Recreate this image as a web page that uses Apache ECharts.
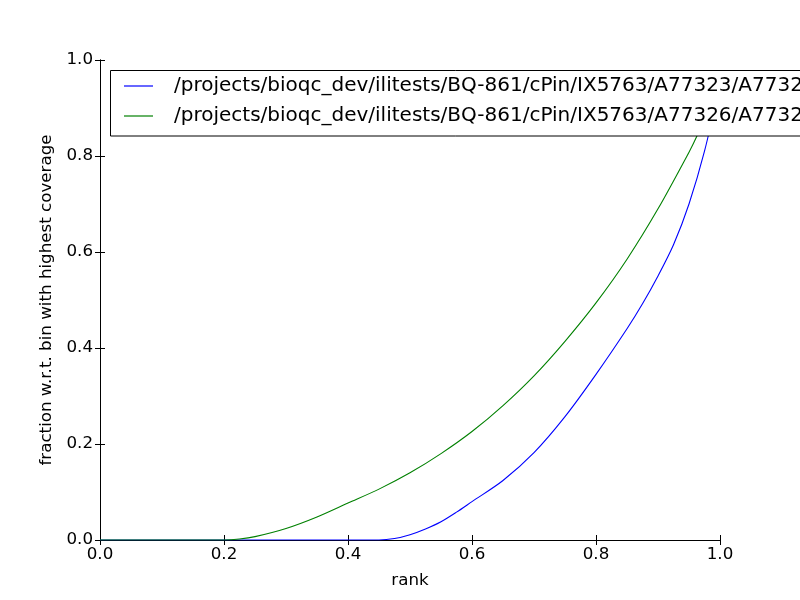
<!DOCTYPE html>
<html><head><meta charset="utf-8">
<script src="https://cdn.jsdelivr.net/npm/echarts@6/dist/echarts.min.js"></script>
<style>html,body{margin:0;padding:0;background:#fff}#c{width:800px;height:600px}</style>
</head><body><div id="c"></div>
<script>
const seriesNames = [
  "/projects/bioqc_dev/ilitests/BQ-861/cPin/IX5763/A77323/A77323.bam",
  "/projects/bioqc_dev/ilitests/BQ-861/cPin/IX5763/A77326/A77326.bam"
];
const blueRank  = [0.0, 0.2, 0.4, 0.45, 0.475, 0.5, 0.525, 0.55, 0.575, 0.6, 0.65, 0.7, 0.75, 0.8, 0.85, 0.875, 0.9, 0.925, 0.95, 0.975, 1.0];
const blueFrac  = [0.0, 0.0, 0.0, 0.0, 0.003, 0.011, 0.023, 0.038, 0.058, 0.08, 0.124, 0.182, 0.257, 0.345, 0.44, 0.492, 0.55, 0.615, 0.70, 0.81, 0.95];
const greenRank = [0.0, 0.2, 0.225, 0.25, 0.3, 0.35, 0.4, 0.45, 0.5, 0.55, 0.6, 0.65, 0.7, 0.75, 0.8, 0.85, 0.9, 0.95, 0.963, 1.0];
const greenFrac = [0.0, 0.0, 0.002, 0.007, 0.024, 0.048, 0.077, 0.106, 0.14, 0.18, 0.226, 0.28, 0.342, 0.414, 0.494, 0.585, 0.69, 0.808, 0.842, 0.95];
const xTicks = [0.0, 0.2, 0.4, 0.6, 0.8, 1.0];
const yTicks = [0.0, 0.2, 0.4, 0.6, 0.8, 1.0];

const pairs = (xs, ys) => xs.map((x, i) => [x, ys[i]]);
const font = "DejaVu Sans";
const axisCommon = {
  type: 'value', min: 0, max: 1, interval: 0.2,
  axisLine: {show: true, lineStyle: {color: '#000', width: 1}},
  axisTick: {show: true, inside: true, length: 5, lineStyle: {color: '#000'}},
  splitLine: {show: false}
};
const chart = echarts.init(document.getElementById('c'));
chart.setOption({
  animation: false,
  backgroundColor: '#fff',
  textStyle: {fontFamily: font},
  grid: {left: 100, right: 80, top: 60, bottom: 60},
  legend: {
    orient: 'vertical', left: 110.5, top: 70.5,
    padding: [5.5, 20, 10, 13.5],
    itemGap: 10, itemWidth: 29, itemHeight: 1.2,
    backgroundColor: '#fff', borderColor: '#000', borderWidth: 1, borderRadius: 0,
    textStyle: {fontFamily: font, fontSize: 20, color: '#000', lineHeight: 20, padding: [0, 0, 0, 16]},
    data: seriesNames.map(n => ({name: n, icon: 'rect'})),
    z: 10
  },
  xAxis: [
    Object.assign({}, axisCommon, {position: 'bottom', name: 'rank', nameLocation: 'middle', nameGap: 32,
      nameTextStyle: {fontFamily: font, fontSize: 16.7, color: '#000'},
      axisLabel: {fontFamily: font, fontSize: 16.7, color: '#000', margin: 6, formatter: v => xTicks.includes(+v.toFixed(1)) ? v.toFixed(1) : ''}}),
    Object.assign({}, axisCommon, {position: 'top', axisLabel: {show: false}})
  ],
  yAxis: [
    Object.assign({}, axisCommon, {position: 'left', name: 'fraction w.r.t. bin with highest coverage', nameLocation: 'middle', nameGap: 38,
      nameTextStyle: {fontFamily: font, fontSize: 16.7, color: '#000'},
      axisLabel: {fontFamily: font, fontSize: 16.7, color: '#000', margin: 7, formatter: v => yTicks.includes(+v.toFixed(1)) ? v.toFixed(1) : ''}}),
    Object.assign({}, axisCommon, {position: 'right', axisLabel: {show: false}})
  ],
  series: [
    {name: seriesNames[0], type: 'line', data: pairs(blueRank, blueFrac), smooth: 0.3, showSymbol: false,
      lineStyle: {color: '#0000ff', width: 1.1}, itemStyle: {color: '#0000ff'}},
    {name: seriesNames[1], type: 'line', data: pairs(greenRank, greenFrac), smooth: 0.3, showSymbol: false,
      lineStyle: {color: '#008000', width: 1.1}, itemStyle: {color: '#008000'}}
  ]
});
</script></body></html>
